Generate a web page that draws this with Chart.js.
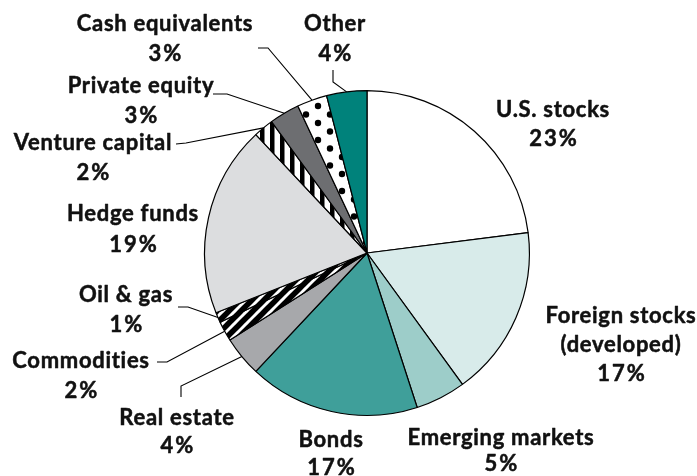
<!DOCTYPE html>
<html>
<head>
<meta charset="utf-8">
<script src="https://cdn.jsdelivr.net/npm/chart.js@4/dist/chart.umd.min.js"></script>
<style>
  html, body { margin: 0; padding: 0; background: #ffffff; }
  #wrap { width: 697px; height: 476px; }
</style>
</head>
<body>
<div id="wrap"><canvas id="c" width="697" height="476"></canvas></div>
<script>
// ---- data ----
const categories = ['U.S. stocks', 'Foreign stocks (developed)', 'Emerging markets', 'Bonds',
  'Real estate', 'Commodities', 'Oil & gas', 'Hedge funds', 'Venture capital',
  'Private equity', 'Cash equivalents', 'Other'];
const values = [23, 17, 5, 17, 4, 2, 1, 19, 2, 3, 3, 4];
const labelLines = [
  ['U.S. stocks'], ['Foreign stocks', '(developed)'], ['Emerging markets'], ['Bonds'],
  ['Real estate'], ['Commodities'], ['Oil & gas'], ['Hedge funds'], ['Venture capital'],
  ['Private equity'], ['Cash equivalents'], ['Other']
];

// ---- patterns ----
function makePattern(w, h, draw) {
  const c = document.createElement('canvas');
  c.width = w; c.height = h;
  const g = c.getContext('2d');
  draw(g, w, h);
  return document.getElementById('c').getContext('2d').createPattern(c, 'repeat');
}
const dots = makePattern(24, 17, (g, w, h) => {
  g.fillStyle = '#fff'; g.fillRect(0, 0, w, h);
  g.fillStyle = '#000';
  [[6, 4], [18, 12.5], [18, -4.5], [6, 21]].forEach(([x, y]) => {
    g.beginPath(); g.arc(x, y, 3.2, 0, Math.PI * 2); g.fill();
  });
});
const vstripes = makePattern(10, 10, (g, w, h) => {
  g.fillStyle = '#fff'; g.fillRect(0, 0, w, h);
  g.fillStyle = '#000'; g.fillRect(0, 0, 4.5, h);
});
const hatch = makePattern(12, 12, (g, w, h) => {
  g.fillStyle = '#fff'; g.fillRect(0, 0, w, h);
  g.strokeStyle = '#000'; g.lineWidth = 5.5;
  for (let k = -2; k <= 2; k++) {
    g.beginPath(); g.moveTo(k * 12 - 2, h + 2); g.lineTo(k * 12 + w + 2, -2); g.stroke();
  }
});
const colors = ['#ffffff', '#d8ebea', '#9dcdc9', '#3f9f9a', '#a7a8ab', hatch, hatch,
  '#dcdddf', vstripes, '#6d6e71', dots, '#00827b'];

// ---- label layout (text center x, baselines) and leader paths (label end -> elbow) ----
const FONT = 'bold 22px Lato, "Open Sans", sans-serif';
const labelPos = [
  { x: 553, y: [117, 146] },
  { x: 621, y: [323, 352, 381] },
  { x: 501, y: [445, 471] },
  { x: 331, y: [447, 475] },
  { x: 177, y: [425, 453] },
  { x: 81, y: [368, 398] },
  { x: 126, y: [302, 332] },
  { x: 133, y: [221, 252] },
  { x: 93, y: [150, 180] },
  { x: 141, y: [93, 123] },
  { x: 165, y: [31, 61] },
  { x: 335, y: [31, 61] }
];
const leaders = {
  4: [[181, 397], [181, 386]],
  5: [[157, 362], [167, 362]],
  6: [[178, 307], [188, 307]],
  8: [[176, 144], [186, 143]],
  9: [[213, 94], [227, 94]],
  10: [[258, 48], [268, 48]],
  11: [[333, 70], [333, 82]]
};

const labelPlugin = {
  id: 'pieLabels',
  afterDatasetsDraw(chart) {
    const ctx = chart.ctx;
    const meta = chart.getDatasetMeta(0);
    ctx.save();
    ctx.strokeStyle = '#000';
    ctx.lineWidth = 1.1;
    Object.keys(leaders).forEach(k => {
      const arc = meta.data[k];
      const p = arc.getProps(['x', 'y', 'startAngle', 'endAngle', 'outerRadius'], true);
      const a = (p.startAngle + p.endAngle) / 2;
      const ex = p.x + Math.cos(a) * p.outerRadius;
      const ey = p.y + Math.sin(a) * p.outerRadius;
      const pts = leaders[k];
      ctx.beginPath();
      ctx.moveTo(pts[0][0], pts[0][1]);
      ctx.lineTo(pts[1][0], pts[1][1]);
      ctx.lineTo(ex, ey);
      ctx.stroke();
    });
    ctx.fillStyle = '#111';
    ctx.strokeStyle = '#111';
    ctx.lineWidth = 0.5;
    ctx.lineJoin = 'round';
    ctx.font = FONT;
    ctx.textAlign = 'center';
    ctx.textBaseline = 'alphabetic';
    const put = (t, x, y) => { ctx.fillText(t, x, y); ctx.strokeText(t, x, y); };
    labelLines.forEach((lines, i) => {
      const pos = labelPos[i];
      ctx.letterSpacing = '0.7px';
      lines.forEach((t, j) => put(t, pos.x, pos.y[j]));
      ctx.letterSpacing = '2px';
      put(values[i] + '%', pos.x + 1, pos.y[lines.length]);
    });
    ctx.letterSpacing = '0px';
    ctx.restore();
  }
};

new Chart(document.getElementById('c'), {
  type: 'pie',
  data: {
    labels: categories,
    datasets: [{
      data: values,
      backgroundColor: colors,
      borderColor: '#000',
      borderWidth: 1.2,
      hoverOffset: 0
    }]
  },
  options: {
    responsive: false,
    devicePixelRatio: 1,
    animation: false,
    layout: { padding: { left: 204, right: 167, top: 90, bottom: 60 } },
    plugins: { legend: { display: false }, tooltip: { enabled: false }, title: { display: false } }
  },
  plugins: [labelPlugin]
});
</script>
</body>
</html>
